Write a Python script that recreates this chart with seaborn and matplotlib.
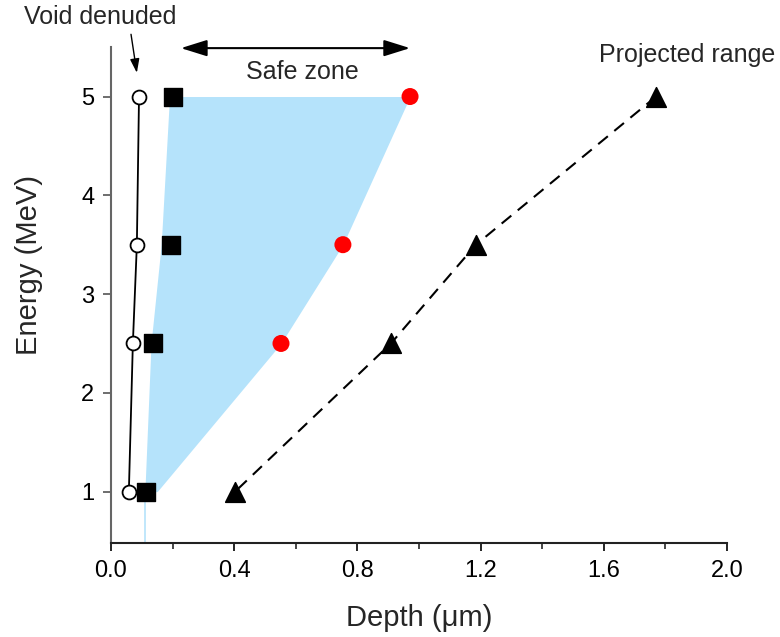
import numpy as np
import pandas as pd
import matplotlib
matplotlib.use("Agg")
import matplotlib.pyplot as plt
import seaborn as sns

# Data
energy_void = [5.0, 3.5, 2.5, 1.0]
depth_void = [0.091, 0.084, 0.071, 0.058]

energy_sq = [5.0, 3.5, 2.5, 1.0]
depth_sq = [0.201, 0.195, 0.136, 0.114]

energy_red = [5.0, 3.5, 2.5]
depth_red = [0.971, 0.753, 0.552]

energy_proj = [5.0, 3.5, 2.5, 1.0]
depth_proj = [1.77, 1.185, 0.909, 0.403]

# Safe zone boundary
zone_energy = [5.0, 3.5, 2.5, 1.0]
zone_left = [0.19, 0.163, 0.13, 0.11]
zone_right = [0.971, 0.753, 0.552, 0.15]

x_ticks = [0.0, 0.4, 0.8, 1.2, 1.6, 2.0]
y_ticks = [1, 2, 3, 4, 5]

sns.set_style("ticks")
plt.rcParams['font.family'] = ['Liberation Sans', 'DejaVu Sans']

fig = plt.figure(figsize=(7.8, 6.37), dpi=100)
ax = fig.add_axes([0.1423, 0.1476, 0.932 - 0.1423, 0.926 - 0.1476])

blue = '#B5E3FB'
ax.fill_betweenx(zone_energy, zone_left, zone_right, color=blue, lw=0, zorder=1)
ax.plot([zone_left[-1], zone_left[-1]], [0.48, zone_energy[-1]], color=blue, lw=1.2, zorder=1)

df_void = pd.DataFrame({'x': depth_void, 'y': energy_void})
sns.lineplot(data=df_void, x='x', y='y', sort=False, estimator=None, ax=ax,
             color='black', lw=1.3, marker='o', markersize=10,
             markerfacecolor='white', markeredgecolor='black', markeredgewidth=1.3, zorder=3)

df_sq = pd.DataFrame({'x': depth_sq, 'y': energy_sq})
sns.scatterplot(data=df_sq, x='x', y='y', ax=ax, marker='s', s=150, color='black',
                edgecolor='black', zorder=4)

df_red = pd.DataFrame({'x': depth_red, 'y': energy_red})
sns.scatterplot(data=df_red, x='x', y='y', ax=ax, marker='o', s=150, color='#FF0000',
                edgecolor='none', zorder=4)

df_proj = pd.DataFrame({'x': depth_proj, 'y': energy_proj})
sns.lineplot(data=df_proj, x='x', y='y', sort=False, estimator=None, ax=ax,
             color='black', lw=1.5, dashes=False, zorder=2)
ax.lines[-1].set_dashes([6, 4])
sns.scatterplot(data=df_proj, x='x', y='y', ax=ax, marker='^', s=200, color='black',
                edgecolor='black', zorder=4)

ax.set_xlim(0.0, 2.0)
ax.set_ylim(0.48, 5.5)
ax.set_xticks(x_ticks)
ax.set_xticklabels([f"{v:.1f}" for v in x_ticks])
ax.set_xticks([0.2, 0.6, 1.0, 1.4, 1.8], minor=True)
ax.set_yticks(y_ticks)
ax.tick_params(axis='both', which='major', direction='out', length=6, width=1.2,
               labelsize=17, colors='black', pad=6)
ax.tick_params(axis='x', which='minor', direction='out', length=4, width=1.2)

for side in ['top', 'right']:
    ax.spines[side].set_visible(False)
ax.spines['left'].set_color('#666666')
ax.spines['left'].set_linewidth(1.5)
ax.spines['bottom'].set_color('#222222')
ax.spines['bottom'].set_linewidth(1.5)
ax.tick_params(axis='y', colors='#555555', labelcolor='black')

ax.set_xlabel('Depth (\u03bcm)', fontsize=21, labelpad=16)
ax.set_ylabel('Energy (MeV)', fontsize=21)
ax.yaxis.set_label_coords(-0.11, 0.56)

# Annotations
ax.annotate('', xy=(0.227, 5.49), xytext=(0.971, 5.49), annotation_clip=False,
            arrowprops=dict(arrowstyle='<|-|>,head_length=0.8,head_width=0.25',
                            color='black', lw=1.5, mutation_scale=20,
                            shrinkA=0, shrinkB=0))
ax.text(0.62, 5.25, 'Safe zone', fontsize=18, ha='center', va='center')

ax.text(-0.036, 5.81, 'Void denuded', fontsize=18, ha='center', va='center', clip_on=False)
ax.annotate('', xy=(0.084, 5.24), xytext=(0.065, 5.63), annotation_clip=False,
            arrowprops=dict(arrowstyle='-|>,head_length=0.6,head_width=0.2',
                            color='black', lw=1.0, mutation_scale=14,
                            shrinkA=0, shrinkB=0))

ax.text(1.87, 5.42, 'Projected range', fontsize=18, ha='center', va='center')

if ax.get_legend():
    ax.get_legend().remove()

fig.savefig('out.png', dpi=100)
